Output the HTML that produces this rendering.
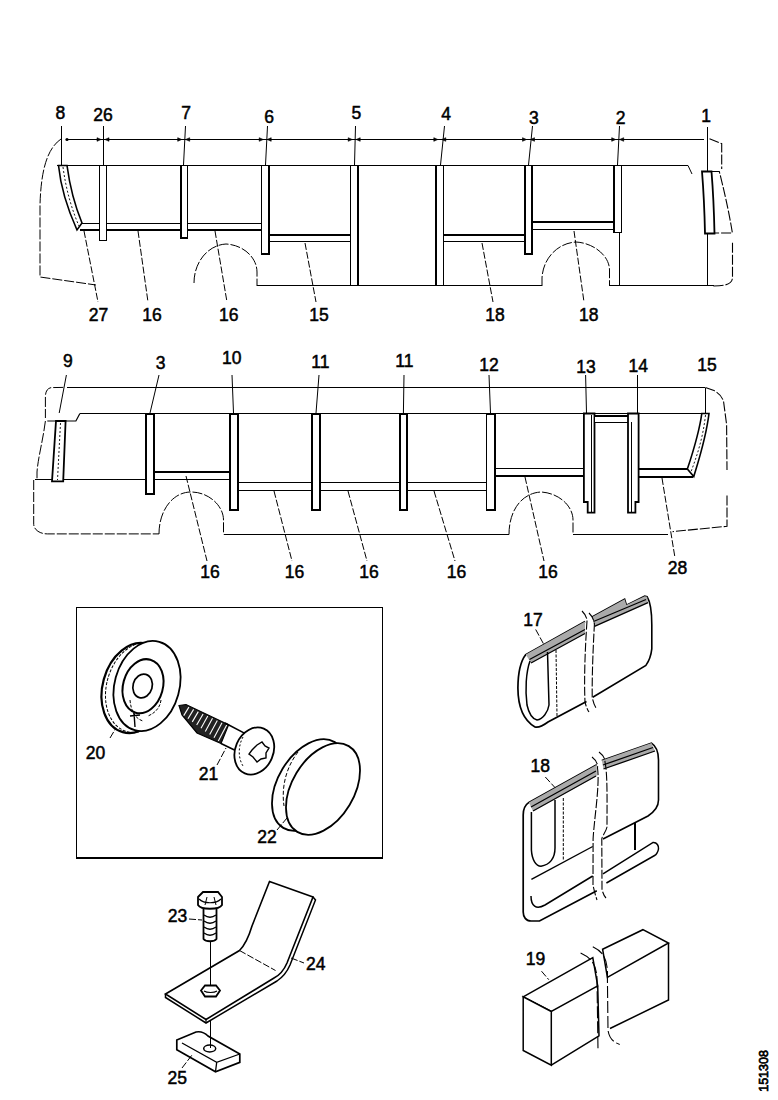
<!DOCTYPE html>
<html><head><meta charset="utf-8"><style>
html,body{margin:0;padding:0;background:#fff;width:778px;height:1100px;overflow:hidden}
svg{display:block}
text{font-family:"Liberation Sans",sans-serif;font-weight:normal;text-anchor:middle;fill:#000;stroke:#000;stroke-width:0.5}
</style></head><body>
<svg width="778" height="1100" viewBox="0 0 778 1100" stroke="#000" fill="none" stroke-linecap="butt">
<line x1="66" y1="139.5" x2="704" y2="139.5" stroke-width="1" shape-rendering="crispEdges"/>
<circle cx="67" cy="139.5" r="1.6" fill="#000" stroke="none"/>
<path d="M101,139.5 L97,137.7 L97,141.3 Z" stroke-width="0.6" fill="#000"/>
<path d="M105,139.5 L109,137.7 L109,141.3 Z" stroke-width="0.6" fill="#000"/>
<path d="M181.7,139.5 L177.7,137.7 L177.7,141.3 Z" stroke-width="0.6" fill="#000"/>
<path d="M185.7,139.5 L189.7,137.7 L189.7,141.3 Z" stroke-width="0.6" fill="#000"/>
<path d="M263.2,139.5 L259.2,137.7 L259.2,141.3 Z" stroke-width="0.6" fill="#000"/>
<path d="M267.2,139.5 L271.2,137.7 L271.2,141.3 Z" stroke-width="0.6" fill="#000"/>
<path d="M352.2,139.5 L348.2,137.7 L348.2,141.3 Z" stroke-width="0.6" fill="#000"/>
<path d="M356.2,139.5 L360.2,137.7 L360.2,141.3 Z" stroke-width="0.6" fill="#000"/>
<path d="M437.8,139.5 L433.8,137.7 L433.8,141.3 Z" stroke-width="0.6" fill="#000"/>
<path d="M441.8,139.5 L445.8,137.7 L445.8,141.3 Z" stroke-width="0.6" fill="#000"/>
<path d="M526.5,139.5 L522.5,137.7 L522.5,141.3 Z" stroke-width="0.6" fill="#000"/>
<path d="M530.5,139.5 L534.5,137.7 L534.5,141.3 Z" stroke-width="0.6" fill="#000"/>
<path d="M615.7,139.5 L611.7,137.7 L611.7,141.3 Z" stroke-width="0.6" fill="#000"/>
<path d="M619.7,139.5 L623.7,137.7 L623.7,141.3 Z" stroke-width="0.6" fill="#000"/>
<line x1="57" y1="165.5" x2="688" y2="165.5" stroke-width="1" shape-rendering="crispEdges"/>
<path d="M688,165.5 L692,174" stroke-width="1" fill="none"/>
<text x="60.3" y="119.1" font-size="17.5">8</text>
<text x="103" y="121.1" font-size="17.5">26</text>
<text x="186" y="119.2" font-size="17.5">7</text>
<text x="269" y="123.0" font-size="17.5">6</text>
<text x="356.4" y="119.2" font-size="17.5">5</text>
<text x="446.2" y="119.8" font-size="17.5">4</text>
<text x="533.8" y="123.7" font-size="17.5">3</text>
<text x="620.5" y="123.7" font-size="17.5">2</text>
<text x="706.2" y="121.7" font-size="17.5">1</text>
<line x1="61.5" y1="126" x2="61.5" y2="165" stroke-width="1" shape-rendering="crispEdges"/>
<line x1="103.5" y1="126" x2="103.5" y2="165" stroke-width="1" shape-rendering="crispEdges"/>
<line x1="185.5" y1="126" x2="183.5" y2="165" stroke-width="1"/>
<line x1="267.5" y1="126" x2="265.5" y2="165" stroke-width="1"/>
<line x1="355.5" y1="126" x2="354.5" y2="165" stroke-width="1"/>
<line x1="444.5" y1="126" x2="440.5" y2="165" stroke-width="1"/>
<line x1="532.5" y1="126" x2="528.5" y2="165" stroke-width="1"/>
<line x1="619.5" y1="126" x2="617.5" y2="165" stroke-width="1"/>
<path d="M61,139 C48,148 41,168 40,205 L40,277 L96,285" stroke-width="1" fill="none" stroke-dasharray="10 2"/>
<rect x="80" y="223.5" width="181" height="6.5" fill="#fff" stroke="none"/>
<line x1="80" y1="223.5" x2="261" y2="223.5" stroke-width="1" shape-rendering="crispEdges"/>
<line x1="80" y1="230" x2="261" y2="230" stroke-width="2" shape-rendering="crispEdges"/>
<rect x="269" y="235" width="81" height="6.5" fill="#fff" stroke="none"/>
<line x1="269" y1="235" x2="350" y2="235" stroke-width="2" shape-rendering="crispEdges"/>
<line x1="269" y1="241.5" x2="350" y2="241.5" stroke-width="1" shape-rendering="crispEdges"/>
<rect x="443" y="235" width="82" height="6.5" fill="#fff" stroke="none"/>
<line x1="443" y1="235" x2="525" y2="235" stroke-width="2" shape-rendering="crispEdges"/>
<line x1="443" y1="241.5" x2="525" y2="241.5" stroke-width="1" shape-rendering="crispEdges"/>
<rect x="532" y="222" width="82" height="7.5" fill="#fff" stroke="none"/>
<line x1="532" y1="222" x2="614" y2="222" stroke-width="2" shape-rendering="crispEdges"/>
<line x1="532" y1="229.5" x2="614" y2="229.5" stroke-width="1" shape-rendering="crispEdges"/>
<path d="M58.5,165.5 L67,165.5 C70,188 75,206 82,223 L77,230 C68,210 61,190 58.5,165.5 Z" stroke-width="1.6" fill="#fff"/>
<path d="M63,167 C66,190 72,210 79,226" stroke-width="0.9" fill="none" stroke-dasharray="2 2"/>
<rect x="99.5" y="165.5" width="7.0" height="75.0" stroke-width="1.8" fill="#fff" shape-rendering="crispEdges"/>
<rect x="181" y="165.5" width="6.5" height="72.5" stroke-width="1.8" fill="#fff" shape-rendering="crispEdges"/>
<rect x="261.5" y="165.5" width="7.199999999999989" height="88.30000000000001" stroke-width="1.8" fill="#fff" shape-rendering="crispEdges"/>
<rect x="350.5" y="165.5" width="7.5" height="120.0" stroke-width="1.8" fill="#fff" shape-rendering="crispEdges"/>
<rect x="436" y="165.5" width="7.5" height="120.0" stroke-width="1.8" fill="#fff" shape-rendering="crispEdges"/>
<rect x="525" y="165.5" width="7" height="88.5" stroke-width="1.8" fill="#fff" shape-rendering="crispEdges"/>
<rect x="614" y="165.5" width="7.5" height="67.0" stroke-width="1.8" fill="#fff" shape-rendering="crispEdges"/>
<line x1="619.5" y1="232.5" x2="619.5" y2="286" stroke-width="1" shape-rendering="crispEdges"/>
<line x1="257" y1="285.5" x2="542" y2="285.5" stroke-width="1" shape-rendering="crispEdges"/>
<line x1="609.5" y1="285.5" x2="714" y2="285.5" stroke-width="1" shape-rendering="crispEdges"/>
<path d="M194,283 C194,262 208,245 226,244 C244,245 257,258 257,272 L257,286" stroke-width="1" fill="none" stroke-dasharray="10 2"/>
<path d="M542,286 L542,278 C543,258 558,243 576,242 C594,243 609.5,256 609.5,270 L609.5,286" stroke-width="1" fill="none" stroke-dasharray="10 2"/>
<line x1="707.5" y1="127.4" x2="707.5" y2="286" stroke-width="1" shape-rendering="crispEdges"/>
<path d="M702,171.5 L711.5,171.5 C713,190 714,210 714.5,233.5 L705,233.5 C704.5,210 703.5,190 702,171.5 Z" stroke-width="1.8" fill="#fff"/>
<path d="M711.5,171.5 L719.3,171.5 C724,190 729,212 732.4,233 L714.5,233" stroke-width="1.1" fill="none" stroke-dasharray="10 2"/>
<path d="M709.5,138.8 L721.7,143.7 L721.7,169" stroke-width="1.1" fill="none" stroke-dasharray="10 2"/>
<path d="M732.5,242.7 L732.5,278 C732,284 726,286 712.7,286" stroke-width="1.1" fill="none" stroke-dasharray="10 2"/>
<line x1="84" y1="231" x2="98" y2="302" stroke-width="1" stroke-dasharray="7 2"/>
<line x1="138" y1="231" x2="148" y2="302" stroke-width="1" stroke-dasharray="7 2"/>
<line x1="215" y1="231" x2="227" y2="302" stroke-width="1" stroke-dasharray="7 2"/>
<line x1="305" y1="243" x2="316" y2="302" stroke-width="1" stroke-dasharray="7 2"/>
<line x1="482" y1="243" x2="493" y2="302" stroke-width="1" stroke-dasharray="7 2"/>
<line x1="574" y1="231" x2="584" y2="302" stroke-width="1" stroke-dasharray="7 2"/>
<text x="98.4" y="321.3" font-size="17.5">27</text>
<text x="152" y="321.3" font-size="17.5">16</text>
<text x="228.7" y="321.3" font-size="17.5">16</text>
<text x="319" y="321.3" font-size="17.5">15</text>
<text x="495" y="321.3" font-size="17.5">18</text>
<text x="588.7" y="321.3" font-size="17.5">18</text>
<line x1="67.2" y1="387.5" x2="705.4" y2="387.5" stroke-width="1" shape-rendering="crispEdges"/>
<line x1="705.5" y1="387.5" x2="705.5" y2="413.5" stroke-width="1" shape-rendering="crispEdges"/>
<path d="M63.2,387.4 L51,387.6 C47,388.5 45.4,392 45.4,397 L45.4,418" stroke-width="1" fill="none" stroke-dasharray="10 2"/>
<line x1="79.9" y1="413.5" x2="709" y2="413.5" stroke-width="1" shape-rendering="crispEdges"/>
<path d="M79.9,413.5 L75.9,421 L47.3,421" stroke-width="1.2" fill="none"/>
<path d="M45.4,421 C43,440 38,458 37,472 L37,480" stroke-width="1" fill="none" stroke-dasharray="10 2"/>
<line x1="34.5" y1="479.5" x2="146" y2="479.5" stroke-width="1" shape-rendering="crispEdges"/>
<path d="M33.7,480 L33.7,524.3 C34,530 40,533.9 47.3,533.9 L159,533.9" stroke-width="1" fill="none" stroke-dasharray="10 2"/>
<text x="67.8" y="366.7" font-size="17.5">9</text>
<text x="160.7" y="368.7" font-size="17.5">3</text>
<text x="231.7" y="363.6" font-size="17.5">10</text>
<text x="320.4" y="367.5" font-size="17.5">11</text>
<text x="404.3" y="366.6" font-size="17.5">11</text>
<text x="488.9" y="370.6" font-size="17.5">12</text>
<text x="586" y="372.9" font-size="17.5">13</text>
<text x="638.3" y="372.3" font-size="17.5">14</text>
<text x="707" y="371.3" font-size="17.5">15</text>
<line x1="66.4" y1="375" x2="59.2" y2="413" stroke-width="1"/>
<line x1="159" y1="375" x2="150" y2="413" stroke-width="1"/>
<line x1="232" y1="375" x2="233.5" y2="413" stroke-width="1"/>
<line x1="319" y1="375" x2="316" y2="413" stroke-width="1"/>
<line x1="404" y1="375" x2="403.4" y2="413" stroke-width="1"/>
<line x1="489" y1="375" x2="490.5" y2="413" stroke-width="1"/>
<line x1="585.6" y1="375" x2="586.5" y2="413" stroke-width="1"/>
<line x1="637.6" y1="375" x2="637.6" y2="413" stroke-width="1" shape-rendering="crispEdges"/>
<rect x="154" y="472" width="76" height="7.5" fill="#fff" stroke="none"/>
<line x1="154" y1="472" x2="230" y2="472" stroke-width="2" shape-rendering="crispEdges"/>
<line x1="154" y1="479.5" x2="230" y2="479.5" stroke-width="1" shape-rendering="crispEdges"/>
<rect x="238" y="482.5" width="248.39999999999998" height="8.0" fill="#fff" stroke="none"/>
<line x1="238" y1="482.5" x2="486.4" y2="482.5" stroke-width="1" shape-rendering="crispEdges"/>
<line x1="238" y1="490.5" x2="486.4" y2="490.5" stroke-width="1" shape-rendering="crispEdges"/>
<rect x="494.6" y="468.5" width="89.39999999999998" height="7.5" fill="#fff" stroke="none"/>
<line x1="494.6" y1="468.5" x2="584" y2="468.5" stroke-width="1" shape-rendering="crispEdges"/>
<line x1="494.6" y1="476" x2="584" y2="476" stroke-width="2" shape-rendering="crispEdges"/>
<rect x="638.6" y="469" width="54.10000000000002" height="8" fill="#fff" stroke="none"/>
<line x1="638.6" y1="469" x2="692.7" y2="469" stroke-width="2" shape-rendering="crispEdges"/>
<line x1="638.6" y1="477" x2="692.7" y2="477" stroke-width="2" shape-rendering="crispEdges"/>
<path d="M56,421 L65.6,421 L63.2,481.4 L52,481.4 Z" stroke-width="1.8" fill="#fff"/>
<line x1="60.5" y1="423" x2="57.5" y2="480" stroke-width="0.9" stroke-dasharray="2 2"/>
<rect x="146" y="414" width="8" height="80" stroke-width="1.8" fill="#fff" shape-rendering="crispEdges"/>
<rect x="229.6" y="414" width="8.200000000000017" height="96" stroke-width="1.8" fill="#fff" shape-rendering="crispEdges"/>
<rect x="312" y="414" width="8" height="96" stroke-width="1.8" fill="#fff" shape-rendering="crispEdges"/>
<rect x="400" y="414" width="7" height="96" stroke-width="1.8" fill="#fff" shape-rendering="crispEdges"/>
<rect x="486.4" y="414" width="8.200000000000045" height="96" stroke-width="1.8" fill="#fff" shape-rendering="crispEdges"/>
<path d="M583.9,413.5 L594.5,413.5 L594.5,512.6 L587.7,512.6 L587.7,502 L583.9,502 Z" stroke-width="1.8" fill="#fff"/>
<line x1="591.5" y1="415" x2="591.5" y2="512" stroke-width="1.2" shape-rendering="crispEdges"/>
<rect x="594.5" y="416" width="34.5" height="6.399999999999977" stroke-width="1.3" fill="#fff" shape-rendering="crispEdges"/>
<path d="M628,413.5 L638.6,413.5 L638.6,502 L635.4,502 L635.4,512.6 L628,512.6 Z" stroke-width="1.8" fill="#fff"/>
<line x1="631.2" y1="422" x2="631.2" y2="512" stroke-width="1.2" shape-rendering="crispEdges"/>
<path d="M701.8,413.5 L709,413.5 C706,438 700,456 693.8,476.5 L687.4,469 C693,452 699,434 701.8,413.5 Z" stroke-width="1.6" fill="#fff"/>
<path d="M705.5,415 C703,438 697,456 690.5,473" stroke-width="0.9" fill="none" stroke-dasharray="2 2"/>
<line x1="223.5" y1="534.5" x2="508.8" y2="534.5" stroke-width="1" shape-rendering="crispEdges"/>
<line x1="573" y1="534.5" x2="668.3" y2="534.5" stroke-width="1" shape-rendering="crispEdges"/>
<path d="M159,534 C159,510 173,492 191,492 C209,492 223.5,506 223.5,520 L223.5,534.5" stroke-width="1" fill="none" stroke-dasharray="10 2"/>
<path d="M509,534.5 C509,510 522,493 541,492 C559,493 573,506 573,520 L573,534.5" stroke-width="1" fill="none" stroke-dasharray="10 2"/>
<path d="M705.4,387.4 L714,390.6 C719,393 722,397 723.5,401 L726.6,424.5 L727,470 M727,495.6 L727,526.3 L672.6,531.6" stroke-width="1.1" fill="none" stroke-dasharray="10 2"/>
<line x1="186" y1="476" x2="207" y2="561" stroke-width="1" stroke-dasharray="7 2"/>
<line x1="274" y1="491" x2="292" y2="561" stroke-width="1" stroke-dasharray="7 2"/>
<line x1="348" y1="491" x2="367" y2="561" stroke-width="1" stroke-dasharray="7 2"/>
<line x1="434" y1="491" x2="455" y2="561" stroke-width="1" stroke-dasharray="7 2"/>
<line x1="525" y1="477" x2="544" y2="561" stroke-width="1" stroke-dasharray="7 2"/>
<line x1="662" y1="478" x2="674.7" y2="556" stroke-width="1" stroke-dasharray="7 2"/>
<text x="210" y="578.3" font-size="17.5">16</text>
<text x="294.4" y="578.3" font-size="17.5">16</text>
<text x="369" y="578.3" font-size="17.5">16</text>
<text x="456.6" y="578.3" font-size="17.5">16</text>
<text x="548" y="578.3" font-size="17.5">16</text>
<text x="677.6" y="574.3" font-size="17.5">28</text>
<rect x="76.5" y="607.5" width="306.0" height="250.5" stroke-width="1.5" fill="none" shape-rendering="crispEdges"/>
<ellipse cx="135" cy="688" rx="32.4" ry="45.8" transform="rotate(15.5 135 688)" stroke-width="2.2" fill="#fff"/>
<ellipse cx="139" cy="687.5" rx="32.4" ry="45.8" transform="rotate(15.5 139 687.5)" stroke-width="1.0" fill="none" stroke-dasharray="3 1.5"/>
<ellipse cx="147" cy="686" rx="32.4" ry="45.8" transform="rotate(15.5 147 686)" stroke-width="1.8" fill="#fff"/>
<ellipse cx="143" cy="686.2" rx="19.9" ry="27.5" transform="rotate(15.5 143 686.2)" stroke-width="2.0" fill="none"/>
<ellipse cx="142.6" cy="686" rx="9.6" ry="12.1" transform="rotate(15.5 142.6 686)" stroke-width="1.7" fill="none"/>
<path d="M130,700 C131,712 136,719 143,721" stroke-width="1.0" fill="none" stroke-dasharray="3 1.5"/>
<path d="M134,713 L135,727 M130,716 L140,715" stroke-width="1.4" fill="none"/>
<path d="M161,700 C160,708 155,713 148,716" stroke-width="1.0" fill="none" stroke-dasharray="3 1.5"/>
<line x1="110" y1="738" x2="116" y2="728" stroke-width="1" stroke-dasharray="7 2"/>
<text x="95.5" y="758.8" font-size="17.5">20</text>
<path d="M179,705.5 L186,704.5 L228.6,724.7 L221,743.5 L197,733 L182,715 Z" stroke-width="1.2" fill="#222"/>
<line x1="188.9" y1="707.1" x2="183.7" y2="715.6" stroke="#fff" stroke-width="1.1"/>
<line x1="193.6" y1="709.4" x2="188.0" y2="718.8" stroke="#fff" stroke-width="1.1"/>
<line x1="198.3" y1="711.6" x2="192.3" y2="721.9" stroke="#fff" stroke-width="1.1"/>
<line x1="203.1" y1="713.9" x2="196.7" y2="725.1" stroke="#fff" stroke-width="1.1"/>
<line x1="207.8" y1="716.1" x2="201.0" y2="728.2" stroke="#fff" stroke-width="1.1"/>
<line x1="212.5" y1="718.3" x2="205.3" y2="731.4" stroke="#fff" stroke-width="1.1"/>
<line x1="217.3" y1="720.6" x2="209.7" y2="734.6" stroke="#fff" stroke-width="1.1"/>
<line x1="222.0" y1="722.8" x2="214.0" y2="737.8" stroke="#fff" stroke-width="1.1"/>
<line x1="226.7" y1="725.1" x2="218.3" y2="740.9" stroke="#fff" stroke-width="1.1"/>
<path d="M225,723 L245.8,733.9 M221,743.5 L236,750.8" stroke-width="1.6" fill="none"/>
<ellipse cx="254.3" cy="751" rx="19" ry="24.3" transform="rotate(23 254.3 751)" stroke-width="1.8" fill="#fff"/>
<path d="M243,737 C238,746 238,758 243,766" stroke-width="1.0" fill="none" stroke-dasharray="2 2"/>
<path d="M257,745 L262,742 L265,746 L269,748 L266,753 L266,758 L261,759 L257,762 L253,757 L249,754 L252,750 Z" stroke-width="1.4" fill="none"/>
<line x1="217" y1="765" x2="226" y2="748" stroke-width="1" stroke-dasharray="7 2"/>
<text x="208.5" y="779.8" font-size="17.5">21</text>
<ellipse cx="309" cy="785" rx="31" ry="50" transform="rotate(31 309 785)" stroke-width="1.8" fill="#fff"/>
<path d="M298,752 C287,766 281,786 284,806" stroke-width="1.0" fill="none" stroke-dasharray="4 2"/>
<ellipse cx="323" cy="789" rx="31" ry="50" transform="rotate(31 323 789)" stroke-width="1.8" fill="#fff"/>
<line x1="277" y1="830" x2="287" y2="818" stroke-width="1" stroke-dasharray="7 2"/>
<text x="267" y="843.3" font-size="17.5">22</text>
<line x1="210.4" y1="941" x2="210.4" y2="990" stroke-width="1.2" shape-rendering="crispEdges"/>
<line x1="210.4" y1="1021" x2="210.4" y2="1047" stroke-width="1.2" shape-rendering="crispEdges"/>
<path d="M203.5,909 L203.5,939 C206,942 214,942 216.5,939 L216.5,909" stroke-width="1.8" fill="#fff"/>
<path d="M204,915 C208,918 212,918 216,915" stroke-width="1.3" fill="none"/>
<path d="M204,921 C208,924 212,924 216,921" stroke-width="1.3" fill="none"/>
<path d="M204,927 C208,930 212,930 216,927" stroke-width="1.3" fill="none"/>
<path d="M204,933 C208,936 212,936 216,933" stroke-width="1.3" fill="none"/>
<path d="M198,897 L203,892 L218,892 L222,897 L222,905 C219,910 201,910 198,905 Z" stroke-width="1.8" fill="#fff"/>
<path d="M199,899 C204,904 216,904 221,899" stroke-width="1.2" fill="none"/>
<path d="M207,897 L205,905 M214,897 L216,905" stroke-width="1" fill="none"/>
<line x1="189" y1="919" x2="202" y2="920" stroke-width="1" stroke-dasharray="7 2"/>
<text x="177.5" y="921.8" font-size="17.5">23</text>
<path d="M165.5,994 L239.5,950.5 C245,945 249,936 252,926 L269.5,881.5 L313,897 L287,963 C284,970 280,975 274,978 L206,1019.5 Z" stroke-width="1.6" fill="#fff"/>
<path d="M165.5,994 L165.5,997.5 L206,1023 L277,981 C283,977 287,972 290,965 L315.5,900 L313,897" stroke-width="1.5" fill="none"/>
<path d="M206,1019.5 L206,1023" stroke-width="1.2" fill="none"/>
<path d="M239.5,950.5 L275.5,970.5" stroke-width="1" fill="none" stroke-dasharray="7 2"/>
<line x1="210.4" y1="941" x2="210.4" y2="988" stroke-width="1" shape-rendering="crispEdges"/>
<path d="M201,990.5 L205,985.5 L216,985.5 L220,990.5 L216,996.5 L205,996.5 Z" stroke-width="1.8" fill="#fff"/>
<path d="M204,991 C207,993 214,993 217,991" stroke-width="1.2" fill="none"/>
<line x1="291" y1="958" x2="304" y2="963" stroke-width="1" stroke-dasharray="7 2"/>
<text x="315.7" y="970.3" font-size="17.5">24</text>
<path d="M176.8,1040 L196,1032 C201,1031 205,1033 208,1036 L239.8,1054 L239.8,1062.4 L215.5,1071.7 L176.8,1049.7 Z" stroke-width="1.7" fill="#fff"/>
<path d="M182,1043 L216.7,1062.4 L239.8,1054 M216.7,1062.4 L215.5,1071.7" stroke-width="1.3" fill="none"/>
<ellipse cx="209.7" cy="1048.5" rx="6" ry="3.5" transform="rotate(0 209.7 1048.5)" stroke-width="1.5" fill="#fff"/>
<line x1="210.5" y1="1021" x2="210.5" y2="1048" stroke-width="1.2" shape-rendering="crispEdges"/>
<line x1="182" y1="1068" x2="192" y2="1055" stroke-width="1" stroke-dasharray="7 2"/>
<text x="177.3" y="1084.3" font-size="17.5">25</text>
<path d="M525.8,654.6 C520,662 518,675 517.9,688 C518,705 523,720 535,727 C539,728 544,725 548,722 L586.5,701.4 L585.1,621.6 Z" stroke-width="0" fill="#fff"/>
<path d="M585.1,621.6 L525.8,654.6 C520,662 518,675 517.9,688 C518,705 523,720 535,727 C539,728 544,725 548,722 L586.5,701.4" stroke-width="1.7" fill="none"/>
<path d="M525.8,654.6 L585.1,621.6 L585,633.5 L531,663 Z" stroke-width="0" fill="#aaa"/>
<path d="M529.5,659.5 L585,629.5 M531,663 L585,633.5" stroke-width="1.3" fill="none"/>
<path d="M530,661 C526,672 525,690 527,705 C529,714 533,719 537,720 C543,719 548,712 549,705 L547.5,652" stroke-width="1.5" fill="none"/>
<path d="M556,650 L557,716" stroke-width="1.0" fill="none" stroke-dasharray="3 1.5"/>
<path d="M582,611 C585,614 587,617 587,621 C585,650 584,680 585,702 C586,706 587,709 589,712" stroke-width="1.1" fill="none" stroke-dasharray="9 2"/>
<path d="M592.1,616.9 L647.1,596.8 C651,603 651.8,612 651.8,625 L651.8,648.8 C651,656 649,661 645.9,665.4 L592.7,697.3 Z" stroke-width="0" fill="#fff"/>
<path d="M592.1,616.9 L624.6,599.2 L626.4,605.1 L644.7,596.2 L647.1,596.8 C651,603 651.8,612 651.8,625 L651.8,648.8 C651,656 649,661 645.9,665.4 L592.7,697.3" stroke-width="1.6" fill="none"/>
<path d="M592.1,616.9 L624.6,599.2 L626.4,605.1 L644.7,596.2 L647.1,596.8 L648,602.7 L594.5,626.4 Z" stroke-width="0" fill="#aaa"/>
<path d="M593.5,621.5 L646,599.5 M594.5,626.4 L648,602.7" stroke-width="1.3" fill="none"/>
<path d="M589,613 C592,616 594.4,620 594.4,624.5 C593,650 592,675 592.2,697.3 C593,701 594,705 596,708" stroke-width="1.1" fill="none" stroke-dasharray="9 2"/>
<line x1="535.7" y1="629.5" x2="543.6" y2="644" stroke-width="1" stroke-dasharray="7 2"/>
<text x="533" y="626.3" font-size="17.5">17</text>
<path d="M528.9,802.4 C525,805 523.2,809 523.2,815 L523.2,912 C523.2,917 526,921 531,921 L539.5,921 L596.8,890.7 L596.8,764.7 Z" stroke-width="0" fill="#fff"/>
<path d="M596.8,764.7 L528.9,802.4 C525,805 523.2,809 523.2,815 L523.2,912 C523.2,917 526,921 531,921 L539.5,921 L596.8,890.7" stroke-width="1.7" fill="none"/>
<path d="M528.9,802.4 L596.8,764.7 L596.8,776 L533,811 Z" stroke-width="0" fill="#aaa"/>
<path d="M531,807 L596,771 M533,811 L596,776" stroke-width="1.3" fill="none"/>
<path d="M531.4,812 L531.4,850 C532,860 536,866 541,866.2 C550,865 555,858 555,848 L555,800" stroke-width="1.5" fill="none"/>
<line x1="563.3" y1="798" x2="563.3" y2="860" stroke-width="1.0" stroke-dasharray="3 1.5"/>
<path d="M531.4,879.3 L592.7,846.5" stroke-width="1.4" fill="none"/>
<path d="M531,896 C531,906 536,910 545,905 L592.7,876" stroke-width="1.5" fill="none"/>
<path d="M592,757 C596,760 598,764 597.5,768 C600,785 594,820 593.1,839 L593,885 C594,890 595,894 597,900" stroke-width="1.1" fill="none" stroke-dasharray="9 2"/>
<path d="M601.8,760.5 L651.5,743.1 C656,746 658.5,752 658.5,760 L658.5,800 C658.5,806 654,812 648,816 L603,839 Z" stroke-width="0" fill="#fff"/>
<path d="M601.8,760.5 L651.5,743.1 C656,746 658.5,752 658.5,760 L658.5,800 C658.5,806 654,812 648,816 L603,839" stroke-width="1.6" fill="none"/>
<path d="M601.8,760.5 L651.5,743.1 L655,751 L603.5,769 Z" stroke-width="0" fill="#aaa"/>
<path d="M603,765 L653,747.5 M603.5,769 L655,751" stroke-width="1.3" fill="none"/>
<path d="M599,752 C603,755 605,758 605,762 C607.6,775 607,800 607,827 C606,832 602,836 601.8,839 L602,889.8 C603,893 604,896 606,898" stroke-width="1.1" fill="none" stroke-dasharray="9 2"/>
<line x1="635" y1="823" x2="635" y2="849.5" stroke-width="1.5" shape-rendering="crispEdges"/>
<path d="M603,873.8 L652.7,842.6 C657,842 659,846 658.5,849 C658,852 656,855 655,855.3 L606.4,883" stroke-width="1.5" fill="none"/>
<line x1="545.3" y1="777" x2="555" y2="787.6" stroke-width="1" stroke-dasharray="7 2"/>
<text x="540.3" y="771.8" font-size="17.5">18</text>
<path d="M523.2,996.8 L592.8,957.7 L597.7,985.8 L551.3,1011.5 Z" stroke-width="1.5" fill="#fff"/>
<path d="M523.2,996.8 L523.2,1050.5 L551.3,1065.2 L551.3,1011.5 Z" stroke-width="1.5" fill="#fff"/>
<path d="M551.3,1065.2 L599,1035.9 L597.7,985.8" stroke-width="1.5" fill="none"/>
<path d="M602.6,949.2 L642.9,929.7 L668.5,943 L607.4,977.3 Z" stroke-width="1.5" fill="#fff"/>
<path d="M668.5,943 L668.5,1000 L610,1028.5" stroke-width="1.5" fill="none"/>
<path d="M580.6,952.9 C592,958 597,966 597,980 L598,1050 M592.8,946.7 C604,952 608,960 607.4,977 L608,1030 C609,1038 613,1042 619.7,1044.4" stroke-width="1.1" fill="none" stroke-dasharray="12 3"/>
<line x1="541.5" y1="971.2" x2="548.8" y2="979.7" stroke-width="1" stroke-dasharray="7 2"/>
<text x="535.4" y="965.3" font-size="17.5">19</text>
<text x="768" y="1091.8" font-size="12.5" transform="rotate(-90 768 1091.8)" style="text-anchor:start;stroke-width:0.7">151308</text>
</svg>
</body></html>
